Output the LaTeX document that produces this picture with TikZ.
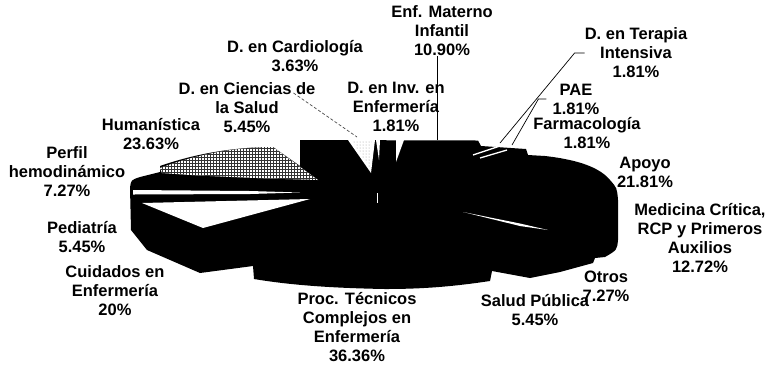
\documentclass[tikz,border=0pt]{standalone}
\usepackage{fontspec}
\setmainfont{Liberation Sans}
\usetikzlibrary{patterns}
\begin{document}
\begin{tikzpicture}[x=1pt,y=-1pt,
  lbl/.style={align=center, font=\fontsize{16.5}{19}\selectfont\bfseries, inner sep=0pt},
  leader/.style={black, line width=0.7pt},
  gapw/.style={fill=white, draw=none}]
\useasboundingbox[fill=white] (0,0) rectangle (770,376);

% ---- pie body (black blob) ----
\fill[black] (300,140) -- (478,140.5) -- (481,146) -- (526,149) -- (528,155)
  -- (545,156) .. controls (580,160) and (600,168) .. (610,180)
  .. controls (617,188) .. (618,200) -- (618,240)
  .. controls (617,250) .. (605,257) -- (595,258) -- (593,263)
  -- (560,272) -- (530,278) -- (492,271) -- (490,281)
  .. controls (450,287) and (420,289) .. (385,289)
  .. controls (330,288) and (290,285) .. (254,279) -- (253,266)
  -- (200,273) -- (147,250) -- (131,230) -- (130,188)
  .. controls (131,180) .. (140,177) -- (160,172) -- (160,166)
  .. controls (200,152) and (240,147) .. (273,147)
  -- (300,166) -- cycle;

% Humanistica slice (hatched)
\fill[white] (160,168) .. controls (200,153) and (240,147) .. (273,147)
  -- (318,180) .. controls (250,178) and (200,176) .. (162,173) -- cycle;
\fill[pattern=grid, pattern color=black!80] (160,168) .. controls (200,153) and (240,147) .. (273,147)
  -- (318,180) .. controls (250,178) and (200,176) .. (162,173) -- cycle;

% white streaks and gaps
\fill[gapw] (133,190) -- (250,191) -- (300,192.5) -- (250,194) -- (133,194.5) -- cycle;
\fill[gapw] (142,203) -- (310,199) -- (203,228) -- cycle;
\fill[gapw] (348,140) -- (375,140) -- (371,173) -- cycle;
\fill[pattern=dots, pattern color=black!40] (352,141) -- (372,141) -- (370,168) -- cycle;
\fill[gapw] (376,140) -- (380,140) -- (379,160) -- cycle;
\fill[gapw] (396,140) -- (404,140) -- (396,162) -- cycle;
\fill[gapw] (376.5,193) rectangle (378,203);
\fill[gapw] (463,212) -- (520,223.5) -- (548,230) -- (520,226) -- cycle;
\draw[white, line width=1.3pt] (473,155) -- (503,145);
\draw[white, line width=1.3pt] (480,158) -- (507,150);

% ---- labels ----
\node[lbl] (materno) at (442,31) {Enf. Materno\\Infantil\\10.90\%};
\node[lbl] (terapia) at (636,53) {D. en Terapia\\Intensiva\\1.81\%};
\node[lbl] (cardio) at (295,56) {D. en Cardiología\\3.63\%};
\node[lbl] (ciencias) at (247,108) {D. en Ciencias de\\la Salud\\5.45\%};
\node[lbl] (inv) at (396,107) {D. en Inv. en\\Enfermería\\1.81\%};
\node[lbl] (pae) at (576,99) {PAE\\1.81\%};
\node[lbl] (farma) at (587,133) {Farmacología\\1.81\%};
\node[lbl] (apoyo) at (645,172) {Apoyo\\21.81\%};
\node[lbl] (medicina) at (700,238) {Medicina Crítica,\\RCP y Primeros\\Auxilios\\12.72\%};
\node[lbl] (otros) at (606,286) {Otros\\7.27\%};
\node[lbl] (salud) at (535,310) {Salud Pública\\5.45\%};
\node[lbl] (proc) at (357,327) {Proc. Técnicos\\Complejos en\\Enfermería\\36.36\%};
\node[lbl] (cuidados) at (115,291) {Cuidados en\\Enfermería\\20\%};
\node[lbl] (pediatria) at (82,237) {Pediatría\\5.45\%};
\node[lbl] (perfil) at (67,172) {Perfil\\hemodinámico\\7.27\%};
\node[lbl] (human) at (151,134) {Humanística\\23.63\%};

% ---- leader lines ----
\coordinate (mt) at (437,140);
\coordinate (tp) at (500,143);
\coordinate (pp) at (512,145);
\coordinate (cs) at (357,137);
\draw[leader] ([xshift=-5pt]materno.south) -- (mt);
\draw[leader] (terapia.west) -- ++(-10,0) -- (tp);
\draw[leader] ([xshift=-6pt]pae.west) -- ++(-8,0) -- (pp);
\draw[leader, dashed, dash pattern=on 3pt off 2pt, black!70] ([shift={(-22,-15)}]ciencias.east) -- (cs);
\end{tikzpicture}
\end{document}
